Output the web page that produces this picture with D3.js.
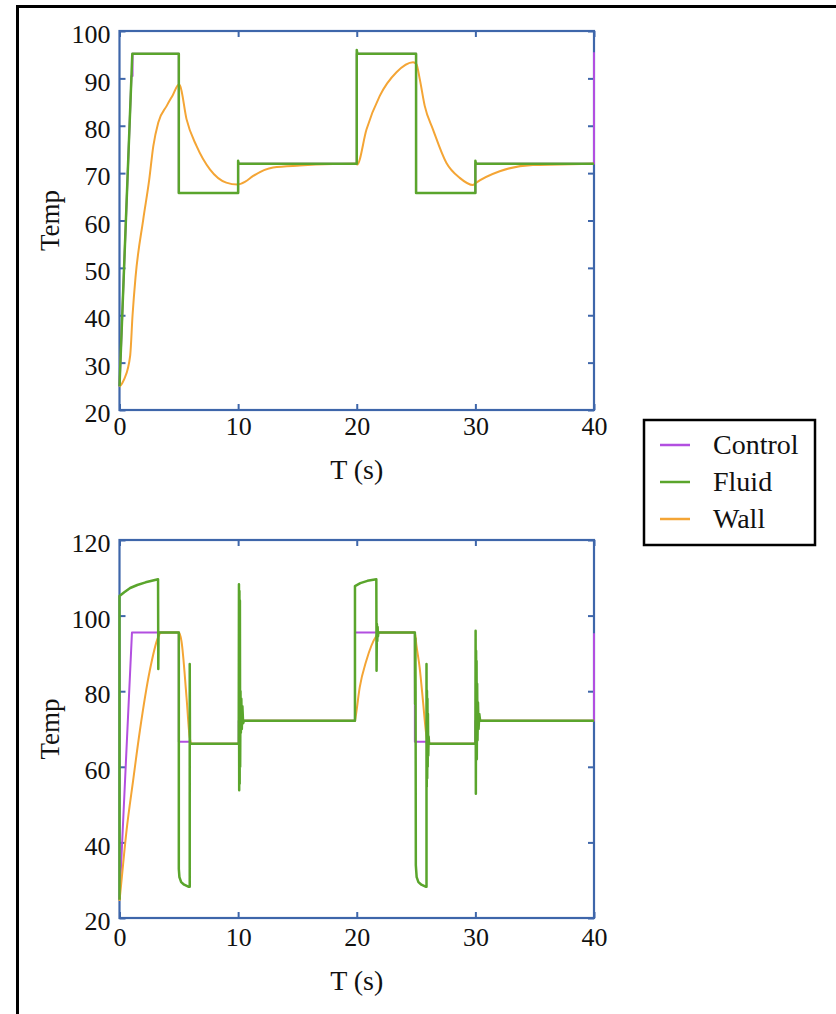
<!DOCTYPE html>
<html><head><meta charset="utf-8">
<script src="https://cdn.jsdelivr.net/npm/d3@7"></script>
<style>
body{margin:0;background:#fff}
svg{display:block}
text{font-family:"Liberation Serif","Times New Roman",serif;fill:#111}
</style>
</head><body>
<svg id="c" width="836" height="1014"></svg>
<script>
// ---------- data ----------
const xTicks = [0, 10, 20, 30, 40];
const topYTicks = [20, 30, 40, 50, 60, 70, 80, 90, 100];
const botYTicks = [20, 40, 60, 80, 100, 120];
const seriesNames = ["Control", "Fluid", "Wall"];
const seriesColors = ["#b24fe0", "#5aa52c", "#f4a535"];
const xTitle = "T (s)";
const yTitle = "Temp";

// top panel
const topControl = [[0,25],[1.01,90.5],[1.1,90.5],[1.1,95.2],[5,95.2],[5,65.8],[10,65.8],[10,72],[20,72],[20,95.2],[25,95.2],[25,65.8],[30,65.8],[30,72],[40,72],[40,95.5]];
const topFluid = [[0,25],[1.08,95.2],[5,95.2],[5,65.8],[10,65.8],[10,72.6],[10.05,72],[20,72],[20,96],[20.05,95.2],[25,95.2],[25,65.8],[30,65.8],[30,72.6],[30.05,72],[40,72]];
const topWall = [[0,24.9],[0.4,26.5],[0.9,31.5],[1.1,40],[1.35,48],[2.0,60.2],[2.5,68.5],[2.85,75.7],[3.27,80.7],[3.98,84.2],[4.5,86.5],[5.0,88.7],[5.1,88.5],[5.65,81.4],[6.5,75.7],[7.62,70.8],[9.0,68.0],[9.95,67.6],[10.6,68.2],[11.27,69.4],[12.95,71.2],[15.2,71.6],[18,71.9],[20,72],[20.03,71.8],[20.82,79.2],[21.94,86.3],[23.35,91.3],[24.75,93.4],[25.03,93.0],[25.3,90],[25.73,84.2],[26.43,79.2],[27.55,72.2],[28.68,69.0],[29.8,67.5],[30.08,68.0],[32.05,70.4],[34.85,71.7],[37.1,71.8],[40,72]];

// bottom panel
const botControl = [[0,25],[1.05,95.5],[5.0,95.5],[5.0,66.6],[5.95,66.6],[5.95,66.1],[10.05,66.1],[10.05,72.2],[19.85,72.2],[19.85,95.5],[24.9,95.5],[24.9,66.6],[25.9,66.6],[25.9,66.1],[30.0,66.1],[30.0,72.2],[40,72.2],[40,95.3]];
const botFluid = [[0,24.8],[0,105.2],[0.4,106.2],[0.9,107.3],[1.5,108.1],[2.2,108.8],[3.25,109.6],
 [3.27,85.9],[3.29,95.5],
 [5.0,95.5],[5.0,33],[5.05,30.8],[5.2,29.5],[5.45,28.8],[5.8,28.3],[5.92,28.3],
 [5.92,87.2],[5.94,66.1],
 [10.05,66.1],[10.07,108.3],[10.09,53.8],[10.11,106.5],[10.13,55.5],[10.15,104],[10.17,60],[10.2,80],[10.23,69],[10.27,78],[10.31,70],[10.36,76],[10.42,71.5],[10.5,72.2],
 [19.85,72.2],[19.85,107.8],[20.3,108.6],[20.9,109.2],[21.65,109.6],
 [21.67,85.4],[21.7,97.8],[21.73,93.3],[21.76,97],[21.79,94.5],[21.82,95.5],
 [24.9,95.5],[24.92,76.6],[24.94,94],[24.96,80],[24.98,34],[25.05,30.8],[25.2,29.5],[25.45,28.8],[25.8,28.3],[25.88,28.3],
 [25.88,87.2],[25.9,54.7],[25.92,80.1],[25.94,57],[25.96,78],[25.98,60],[26.0,74],[26.03,63],[26.06,68],[26.1,66.1],
 [30.0,66.1],[30.02,96],[30.04,52.9],[30.06,90.7],[30.08,65.2],[30.1,88],[30.12,62],[30.15,82],[30.18,67],[30.22,77],[30.27,70],[30.33,74],[30.4,72.2],
 [40,72.2]];
const botWall = [[0,24.5],[0.2,30.9],[0.6,43.3],[1.15,56.4],[1.72,69.6],[2.55,85.4],[3.25,94.2],[3.5,95.5],[5.0,95.5],[5.22,93.3],[5.65,78.4],[5.92,67.8],[6.1,66.1],[10.05,66.1],[10.2,72.2],[19.85,72.2],[19.9,73.1],[20.25,81.0],[20.8,88.0],[21.65,94.6],[21.9,95.5],[24.9,95.5],[25.02,92.4],[25.3,86.3],[25.58,77.5],[25.82,69.6],[26.0,66.1],[30.0,66.1],[30.2,72.2],[40,72.2]];

// ---------- drawing ----------
const svg = d3.select("#c");
const axisColor = "#3e66aa";
const tickFont = "26px";

// outer frame (extends past right and bottom edges)
svg.append("rect").attr("x", 17.5).attr("y", 6.5).attr("width", 840).attr("height", 1030)
  .attr("fill", "none").attr("stroke", "#000").attr("stroke-width", 3);

function panel(cfg) {
  const x = d3.scaleLinear().domain([0, 40]).range([cfg.left, cfg.right]);
  const y = d3.scaleLinear().domain(cfg.yDomain).range([cfg.bottom, cfg.top]);
  const g = svg.append("g");

  const styleAxis = sel => {
    sel.select(".domain").remove();
    sel.selectAll(".tick line").attr("stroke", axisColor).attr("stroke-width", 2);
    sel.selectAll("text").attr("fill", "#111").style("font-size", tickFont)
      .style("font-family", '"Liberation Serif","Times New Roman",serif');
  };

  g.append("g").attr("transform", `translate(0,${cfg.bottom})`)
    .call(d3.axisBottom(x).tickValues(xTicks).tickSize(-6).tickPadding(cfg.xPad).tickFormat(d3.format("d")))
    .call(styleAxis);
  g.append("g").attr("transform", `translate(0,${cfg.top})`)
    .call(d3.axisTop(x).tickValues(xTicks).tickSize(-6).tickFormat(""))
    .call(styleAxis);
  g.append("g").attr("transform", `translate(${cfg.left},0)`)
    .call(d3.axisLeft(y).tickValues(cfg.yTicks).tickSize(-6).tickPadding(9).tickFormat(d3.format("d")))
    .call(styleAxis)
    .selectAll("text").attr("dy", "0.45em");
  g.append("g").attr("transform", `translate(${cfg.right},0)`)
    .call(d3.axisRight(y).tickValues(cfg.yTicks).tickSize(-6).tickFormat(""))
    .call(styleAxis);

  g.append("rect").attr("x", cfg.left).attr("y", cfg.top)
    .attr("width", cfg.right - cfg.left).attr("height", cfg.bottom - cfg.top)
    .attr("fill", "none").attr("stroke", axisColor).attr("stroke-width", 2.2);

  const line = d3.line().x(d => x(d[0])).y(d => y(d[1]));
  const smooth = d3.line().x(d => x(d[0])).y(d => y(d[1])).curve(d3.curveMonotoneX);
  const order = [[cfg.data[0], 0, 2, line], [cfg.data[2], 2, 2, smooth], [cfg.data[1], 1, 2.5, line]];
  order.forEach(([d, i, w, gen]) => {
    g.append("path").datum(d).attr("d", gen)
      .attr("fill", "none").attr("stroke", seriesColors[i]).attr("stroke-width", w)
      .attr("stroke-linejoin", "round");
  });

  g.append("text").attr("x", (cfg.left + cfg.right) / 2).attr("y", cfg.bottom + cfg.titleOff)
    .attr("text-anchor", "middle").style("font-size", "28px").text(xTitle);
  g.append("text").attr("transform", `translate(59,${(cfg.top + cfg.bottom) / 2}) rotate(-90)`)
    .attr("text-anchor", "middle").style("font-size", "27px").text(yTitle);
}

panel({left: 119.5, right: 594, top: 31, bottom: 410, yDomain: [20, 100], yTicks: topYTicks,
       xPad: 7, titleOff: 69, data: [topControl, topFluid, topWall]});
panel({left: 119.5, right: 594, top: 540, bottom: 918, yDomain: [20, 120], yTicks: botYTicks,
       xPad: 10, titleOff: 72, data: [botControl, botFluid, botWall]});

// legend
const lg = svg.append("g");
lg.append("rect").attr("x", 644).attr("y", 420).attr("width", 171).attr("height", 125)
  .attr("fill", "#fff").attr("stroke", "#000").attr("stroke-width", 2.5);
seriesNames.forEach((n, i) => {
  const yy = 445 + i * 37;
  lg.append("line").attr("x1", 660).attr("x2", 690).attr("y1", yy).attr("y2", yy)
    .attr("stroke", seriesColors[i]).attr("stroke-width", 2.5);
  lg.append("text").attr("x", 713).attr("y", yy + 9).style("font-size", "28px").text(n);
});
</script>
</body></html>
